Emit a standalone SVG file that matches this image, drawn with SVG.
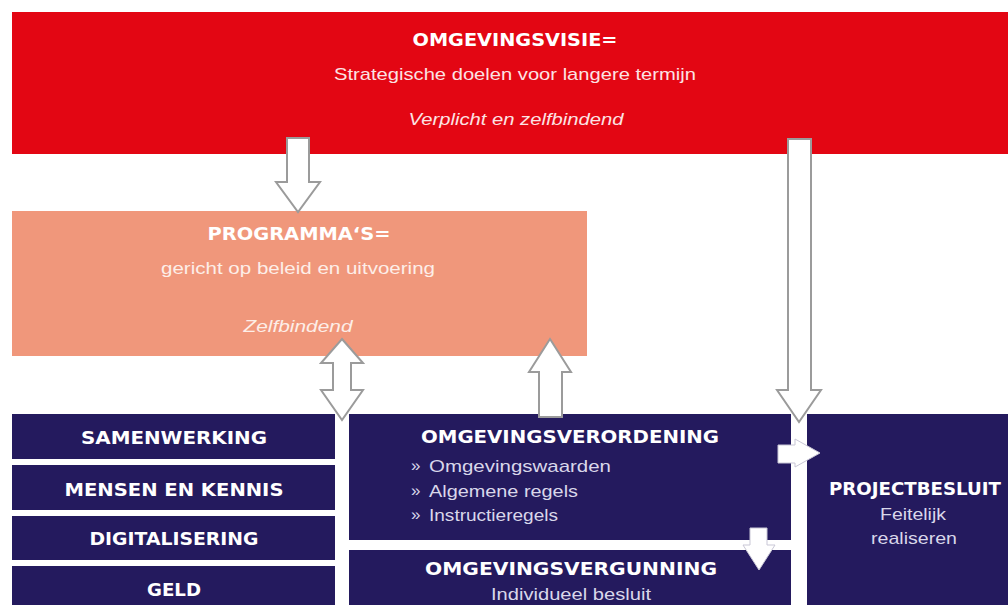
<svg xmlns="http://www.w3.org/2000/svg" width="1008" height="605" viewBox="0 0 1008 605">
<style>
.red{fill:#e30613}
.salmon{fill:#f0977b}
.navy{fill:#241a5e}
.h{font-family:"DejaVu Sans","Liberation Sans",sans-serif;font-weight:bold;font-size:17px;fill:#ffffff;text-anchor:middle}
.t{font-family:"Liberation Sans","DejaVu Sans",sans-serif;font-size:17px;text-anchor:middle}
.tl{font-family:"Liberation Sans","DejaVu Sans",sans-serif;font-size:17px}
.i{font-style:italic}
.onred{fill:#fce3e4}
.onsal{fill:#fdeee8}
.onnavy{fill:#d9d7ea}
.arrow{fill:#ffffff;stroke:#9b9b9b;stroke-width:2;stroke-linejoin:miter}
.arrowf{fill:#ffffff;stroke:#c9c7d6;stroke-width:1}
</style>
<rect width="1008" height="605" fill="#ffffff"/>
<g id="omgevingsvisie">
<rect class="red" x="12" y="12" width="996" height="142"/>
<text class="h" x="515" y="46" textLength="205" lengthAdjust="spacingAndGlyphs">OMGEVINGSVISIE=</text>
<text class="t onred" x="515" y="80" textLength="362" lengthAdjust="spacingAndGlyphs">Strategische doelen voor langere termijn</text>
<text class="t i onred" x="516" y="125" textLength="215" lengthAdjust="spacingAndGlyphs">Verplicht en zelfbindend</text>
</g>
<g id="programmas">
<rect class="salmon" x="12" y="211" width="575" height="145"/>
<text class="h" x="299" y="240" textLength="183" lengthAdjust="spacingAndGlyphs">PROGRAMMA‘S=</text>
<text class="t onsal" x="298" y="274" textLength="274" lengthAdjust="spacingAndGlyphs">gericht op beleid en uitvoering</text>
<text class="t i onsal" x="298" y="332" textLength="109" lengthAdjust="spacingAndGlyphs">Zelfbindend</text>
</g>
<g id="samenwerking">
<rect class="navy" x="12" y="414" width="323" height="45"/>
<text class="h" x="174" y="444" textLength="186" lengthAdjust="spacingAndGlyphs">SAMENWERKING</text>
</g>
<g id="mensen-en-kennis">
<rect class="navy" x="12" y="465" width="323" height="45"/>
<text class="h" x="174" y="496" textLength="219" lengthAdjust="spacingAndGlyphs">MENSEN EN KENNIS</text>
</g>
<g id="digitalisering">
<rect class="navy" x="12" y="516" width="323" height="44"/>
<text class="h" x="174" y="545" textLength="169" lengthAdjust="spacingAndGlyphs">DIGITALISERING</text>
</g>
<g id="geld">
<rect class="navy" x="12" y="566" width="323" height="39"/>
<text class="h" x="174" y="596" textLength="54" lengthAdjust="spacingAndGlyphs">GELD</text>
</g>
<g id="omgevingsverordening">
<rect class="navy" x="349" y="414" width="442" height="126"/>
<text class="h" x="570" y="443" textLength="298" lengthAdjust="spacingAndGlyphs">OMGEVINGSVERORDENING</text>
<text class="tl onnavy" x="411" y="471" font-size="13">»</text>
<text class="tl onnavy" x="429" y="472" textLength="182" lengthAdjust="spacingAndGlyphs">Omgevingswaarden</text>
<text class="tl onnavy" x="411" y="496" font-size="13">»</text>
<text class="tl onnavy" x="429" y="497" textLength="149" lengthAdjust="spacingAndGlyphs">Algemene regels</text>
<text class="tl onnavy" x="411" y="520" font-size="13">»</text>
<text class="tl onnavy" x="429" y="521" textLength="129" lengthAdjust="spacingAndGlyphs">Instructieregels</text>
</g>
<g id="omgevingsvergunning">
<rect class="navy" x="349" y="550" width="442" height="55"/>
<text class="h" x="571" y="575" textLength="292" lengthAdjust="spacingAndGlyphs">OMGEVINGSVERGUNNING</text>
<text class="t onnavy" x="571" y="600" textLength="160" lengthAdjust="spacingAndGlyphs">Individueel besluit</text>
</g>
<g id="projectbesluit">
<rect class="navy" x="807" y="414" width="201" height="191"/>
<text class="h" x="915" y="495" textLength="172" lengthAdjust="spacingAndGlyphs">PROJECTBESLUIT</text>
<text class="t onnavy" x="913" y="520" textLength="66" lengthAdjust="spacingAndGlyphs">Feitelijk</text>
<text class="t onnavy" x="914" y="544" textLength="86" lengthAdjust="spacingAndGlyphs">realiseren</text>
</g>
<g id="connectors">
<polygon class="arrow" points="287,138 309,138 309,182 320,182 298,212 276,182 287,182"/>
<polygon class="arrow" points="342,339 363,363 351,363 351,390 363,390 342,420 321,390 333,390 333,363 321,363"/>
<polygon class="arrow" points="550,339 571,372 562,372 562,417 539,417 539,372 529,372"/>
<polygon class="arrow" points="788,139 811,139 811,390 821,390 799,422 777,390 788,390"/>
<polygon class="arrowf" points="778,445 795,445 795,439 820,453 795,467 795,463 778,463"/>
<polygon class="arrowf" points="750,528 767,528 767,545 775,545 759,570 743,545 750,545"/>
</g>
</svg>
